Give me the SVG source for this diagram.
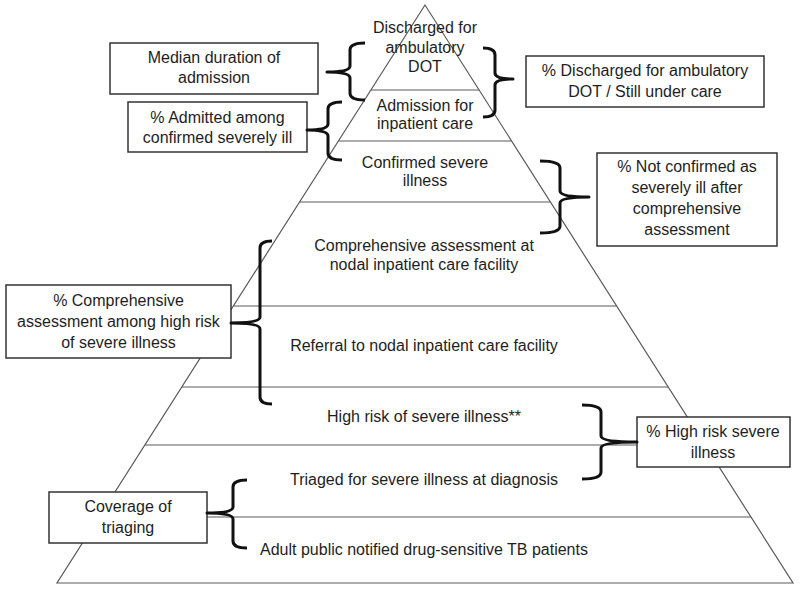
<svg xmlns="http://www.w3.org/2000/svg" width="800" height="590" viewBox="0 0 800 590">
<style>
  .lvl { fill: none; stroke: #5a5a5a; stroke-width: 1.2; }
  .box { fill: #ffffff; stroke: #333333; stroke-width: 1.5; }
  .brace { fill: none; stroke: #111111; stroke-width: 3; stroke-linejoin: round; stroke-linecap: butt; }
  text { font-family: "Liberation Sans", Arial, sans-serif; font-size: 16px; fill: #1e1e1e; text-anchor: middle; }
</style>
<rect width="800" height="590" fill="#ffffff"/>
<g id="pyramid">
  <polygon class="lvl" points="425,5 57,583 793,583"/>
  <line class="lvl" x1="370.9" y1="90" x2="479.1" y2="90"/>
  <line class="lvl" x1="338.4" y1="141" x2="511.6" y2="141"/>
  <line class="lvl" x1="299.6" y1="202" x2="550.4" y2="202"/>
  <line class="lvl" x1="233.4" y1="306" x2="616.6" y2="306"/>
  <line class="lvl" x1="181.8" y1="387" x2="668.2" y2="387"/>
  <line class="lvl" x1="144.9" y1="445" x2="705.1" y2="445"/>
  <line class="lvl" x1="99" y1="517" x2="751" y2="517"/>
</g>
<g id="level-discharged">
  <text x="425" y="33">Discharged for</text>
  <text x="425" y="53">ambulatory</text>
  <text x="425" y="72">DOT</text>
</g>
<g id="level-admission">
  <text x="425" y="111">Admission for</text>
  <text x="425" y="129">inpatient care</text>
</g>
<g id="level-confirmed">
  <text x="425" y="168">Confirmed severe</text>
  <text x="425" y="186">illness</text>
</g>
<g id="level-comprehensive">
  <text x="424" y="251">Comprehensive assessment at</text>
  <text x="424" y="270">nodal inpatient care facility</text>
</g>
<g id="level-referral">
  <text x="424" y="351">Referral to nodal inpatient care facility</text>
</g>
<g id="level-highrisk">
  <text x="424" y="422">High risk of severe illness**</text>
</g>
<g id="level-triaged">
  <text x="424" y="485">Triaged for severe illness at diagnosis</text>
</g>
<g id="level-adult">
  <text x="424" y="555">Adult public notified drug-sensitive TB patients</text>
</g>
<g id="box-median">
  <rect class="box" x="110" y="43" width="208" height="51"/>
  <text x="214" y="63">Median duration of</text>
  <text x="214" y="83">admission</text>
</g>
<g id="box-admitted">
  <rect class="box" x="128" y="102" width="179" height="50"/>
  <text x="217.5" y="123">% Admitted among</text>
  <text x="217.5" y="143">confirmed severely ill</text>
</g>
<g id="box-discharged">
  <rect class="box" x="526" y="56" width="238" height="51"/>
  <text x="645" y="76">% Discharged for ambulatory</text>
  <text x="645" y="97">DOT / Still under care</text>
</g>
<g id="box-notconfirmed">
  <rect class="box" x="597" y="153" width="180" height="93"/>
  <text x="687" y="172">% Not confirmed as</text>
  <text x="687" y="193">severely ill after</text>
  <text x="687" y="214">comprehensive</text>
  <text x="687" y="235">assessment</text>
</g>
<g id="box-comprehensive">
  <rect class="box" x="6" y="285" width="225" height="73"/>
  <text x="118.5" y="306">% Comprehensive</text>
  <text x="118.5" y="327">assessment among high risk</text>
  <text x="118.5" y="348">of severe illness</text>
</g>
<g id="box-highrisk">
  <rect class="box" x="637" y="417" width="153" height="50"/>
  <text x="713" y="437">% High risk severe</text>
  <text x="713" y="458">illness</text>
</g>
<g id="box-coverage">
  <rect class="box" x="49" y="492" width="158" height="51"/>
  <text x="128" y="512">Coverage of</text>
  <text x="128" y="533">triaging</text>
</g>
<g id="connectors">
  <path class="brace" d="M365,43 Q350,43 350,50 L350,66 Q350,72 327,72 Q350,72 350,78 L350,93 Q350,100 365,100"/>
  <path class="brace" d="M342,102 Q328,102 328,109 L328,124 Q328,130 307,130 Q328,130 328,136 L328,153 Q328,160 342,160"/>
  <path class="brace" d="M483,48 Q495,48 495,55 L495,73 Q495,79 513,79 Q495,79 495,85 L495,110 Q495,117 483,117"/>
  <path class="brace" d="M540,161 Q560,161 560,168 L560,191 Q560,197 589,197 Q560,197 560,203 L560,226 Q560,233 540,233"/>
  <path class="brace" d="M272,241 Q260,241 260,248 L260,317 Q260,323 231,323 Q260,323 260,329 L260,397 Q260,404 272,404"/>
  <path class="brace" d="M582,405 Q601,405 601,412 L601,436 Q601,442 637,442 Q601,442 601,448 L601,472 Q601,479 582,479"/>
  <path class="brace" d="M247,480 Q233,480 233,487 L233,507 Q233,513 207,513 Q233,513 233,519 L233,541 Q233,548 247,548"/>
</g>
</svg>
